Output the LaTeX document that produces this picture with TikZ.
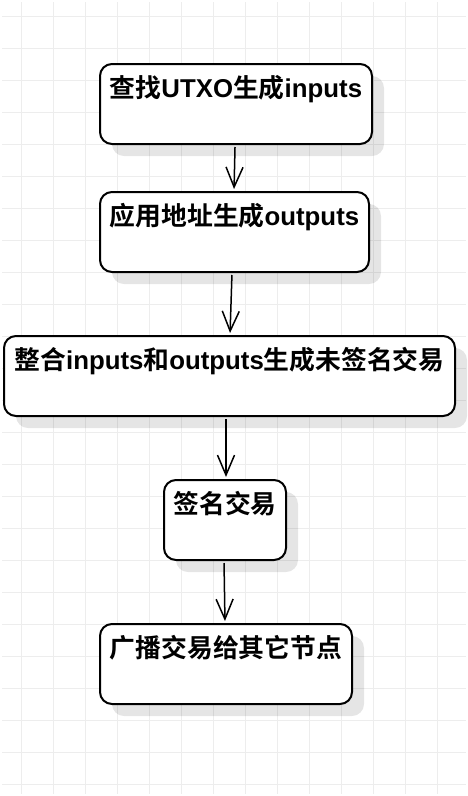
\documentclass[tikz,border=0pt]{standalone}
\usepackage{fontspec}
\setmainfont{Liberation Sans}
\newfontfamily\cjk{Noto Sans CJK SC}[BoldFont={Noto Sans CJK SC Bold}]
\usetikzlibrary{arrows.meta, shadows}

\begin{document}
\begin{tikzpicture}[
                x = 1pt, y = -1pt, % pixel like units, y going down
                > = {Straight Barb[length=20pt, width=17pt]}, % open arrow head
                shorten > = 2pt, shorten < = 2pt,
                line width = 1.5pt
            ]

            \tikzstyle{gridline}=[draw = black!7, line width = 1pt]
            \tikzstyle{stepbox}=[draw = black, line width = 2pt, fill = white,
            rounded corners = 12pt, inner sep = 0pt, text height = 33pt,
            text depth = 47pt, font = \bfseries\fontsize{25.8pt}{30pt}\selectfont,
            drop shadow = {shadow xshift = 12pt, shadow yshift = -12pt,
            fill = black, opacity = 0.1}]

            \useasboundingbox (0,0) rectangle (468,796);
            \fill[white] (0,0) rectangle (468,796);

            % background grid
            \foreach \gx in {21,53,...,469} {\path[gridline] (\gx,0) -- (\gx,796);}
            \foreach \gy in {16,48,...,796} {\path[gridline] (0,\gy) -- (468,\gy);}

            \node (find) [stepbox, minimum width = 272pt] at (236,104)
            {{\cjk 查找}UTXO{\cjk 生成}inputs};
            \node (addr) [stepbox, minimum width = 269pt] at (234.5,232)
            {{\cjk 应用地址生成}outputs};
            \node (merge) [stepbox, minimum width = 451pt] at (229.5,376)
            {{\cjk 整合}inputs{\cjk 和}outputs{\cjk 生成未签名交易}};
            \node (sign) [stepbox, minimum width = 122pt] at (225,520)
            {\cjk 签名交易};
            \node (bcast) [stepbox, minimum width = 252pt] at (226,664)
            {\cjk 广播交易给其它节点};

            \path[->] (find) edge ([xshift=-0.5pt]addr.north);
            \path[->] ([xshift=-2.5pt]addr.south) edge ([xshift=0.5pt]merge.north);
            \path[->] ([xshift=-3.5pt]merge.south) edge ([xshift=1pt]sign.north);
            \path[->] ([xshift=-1pt]sign.south) edge ([xshift=-1pt]bcast.north);

        \end{tikzpicture}
\end{document}
